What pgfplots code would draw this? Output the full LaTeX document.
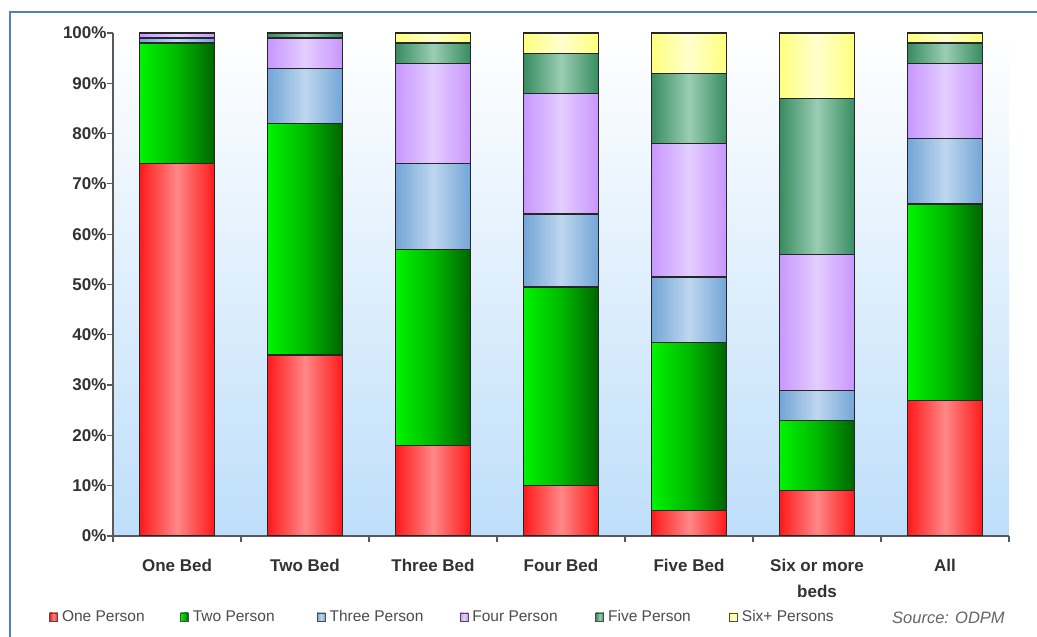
\documentclass[border=0pt]{standalone}
\usepackage{fontspec}
\setmainfont{Liberation Sans}
\usepackage{pgfplots}
\pgfplotsset{compat=1.18}
\usepackage{pgfplotstable}
\definecolor{redE}{RGB}{255,25,25}
\definecolor{redM}{RGB}{255,135,135}
\definecolor{grnL}{RGB}{0,245,0}
\definecolor{grnM}{RGB}{0,185,0}
\definecolor{grnR}{RGB}{0,100,0}
\definecolor{bluE}{RGB}{115,165,215}
\definecolor{bluM}{RGB}{190,215,238}
\definecolor{purE}{RGB}{200,150,255}
\definecolor{purM}{RGB}{228,205,255}
\definecolor{fivE}{RGB}{55,140,95}
\definecolor{fivM}{RGB}{155,205,180}
\definecolor{sixE}{RGB}{255,255,125}
\definecolor{sixM}{RGB}{255,255,205}
\definecolor{frameblue}{RGB}{79,129,189}
\definecolor{bgB}{RGB}{190,222,250}
\definecolor{txt}{RGB}{50,50,50}
% cumulative tops of each segment (one, +two, +three, +four, +five, +six)
\pgfplotstableread{
x c1 c2 c3 c4 c5 c6
0 74 98 99 100 100 100
1 36 82 93 99 100 100
2 18 57 74 94 98 100
3 10 49.5 64 88 96 100
4 5 38.5 51.5 78 92 100
5 9 23 29 56 87 100
6 27 66 79 94 98 100
}\data
\pgfplotsset{
  l1/.style={left color=redE, right color=redE, middle color=redM},
  l2/.style={left color=grnL, right color=grnR, middle color=grnM},
  l3/.style={left color=bluE, right color=bluE, middle color=bluM},
  l4/.style={left color=purE, right color=purE, middle color=purM},
  l5/.style={left color=fivE, right color=fivE, middle color=fivM},
  l6/.style={left color=sixE, right color=sixE, middle color=sixM},
  barbase/.style={ybar, bar width=0.59, bar shift=0pt, draw=black!85, line width=1.2bp, forget plot},
}
\begin{document}
\begin{tikzpicture}[x=1bp,y=1bp]
\useasboundingbox (0,0) rectangle (1037,637);
\fill[white] (0,0) rectangle (1037,637);
\draw[frameblue, line width=2bp] (10,0) -- (10,625) -- (1037,625);
\begin{axis}[
  at={(113bp,101bp)}, anchor=south west, scale only axis,
  width=896bp, height=503bp,
  xmin=-0.5, xmax=6.5, ymin=0, ymax=100,
  axis x line*=bottom, axis y line*=left,
  axis line style={black!65, line width=1.2bp},
  axis background/.style={shade, top color=white, bottom color=bgB},
  tick align=outside, major tick length=6bp,
  tick style={black!65, line width=1.2bp},
  xtick={-0.5,0.5,...,6.5}, xticklabels={},
  extra x ticks={0,1,2,3,4,5,6},
  extra x tick labels={One Bed, Two Bed, Three Bed, Four Bed, Five Bed, {Six or more\\beds}, All},
  extra x tick style={major tick length=0pt, xticklabel style={align=center, font=\bfseries\fontsize{17bp}{26bp}\selectfont, text=txt, anchor=north, yshift=-20bp}},
  ytick={0,10,...,100},
  yticklabels={0\%,10\%,20\%,30\%,40\%,50\%,60\%,70\%,80\%,90\%,100\%},
  yticklabel style={font=\bfseries\fontsize{17bp}{20bp}\selectfont, text=txt, xshift=3bp},
  legend columns=6,
  legend style={at={(-0.0714,-0.161)}, anchor=west, draw=none, fill=none, inner sep=0pt,
    font=\fontsize{15.5bp}{18bp}\selectfont, text=black!70,
    /tikz/every even column/.append style={column sep=0pt}},
  legend image code/.code={\draw[#1, draw=black!70, line width=0.8bp] (0bp,-4bp) rectangle (8bp,4bp);},
]
\pgfplotsinvokeforeach{{-0.2:0.2},{0.8:1.2},{1.8:2.2},{2.8:3.2},{3.8:4.2},{4.8:5.2},{5.8:6.2}}{
  \addplot[barbase, l6, restrict x to domain=#1] table[x=x,y=c6]{\data};
  \addplot[barbase, l5, restrict x to domain=#1] table[x=x,y=c5]{\data};
  \addplot[barbase, l4, restrict x to domain=#1] table[x=x,y=c4]{\data};
  \addplot[barbase, l3, restrict x to domain=#1] table[x=x,y=c3]{\data};
  \addplot[barbase, l2, restrict x to domain=#1] table[x=x,y=c2]{\data};
  \addplot[barbase, l1, restrict x to domain=#1] table[x=x,y=c1]{\data};
}
\addlegendimage{l1}\addlegendentry{\hspace{2bp}\makebox[116bp][l]{One Person}}
\addlegendimage{l2}\addlegendentry{\hspace{2bp}\makebox[122bp][l]{Two Person}}
\addlegendimage{l3}\addlegendentry{\hspace{2bp}\makebox[128bp][l]{Three Person}}
\addlegendimage{l4}\addlegendentry{\hspace{2bp}\makebox[121bp][l]{Four Person}}
\addlegendimage{l5}\addlegendentry{\hspace{2bp}\makebox[119bp][l]{Five Person}}
\addlegendimage{l6}\addlegendentry{\hspace{2bp}\makebox[100bp][l]{Six+ Persons}}
\end{axis}
\node[anchor=west, font=\itshape\fontsize{16.5bp}{18bp}\selectfont, text=black!60, inner sep=0pt] at (892,19) {Source: ODPM};
\end{tikzpicture}
\end{document}
